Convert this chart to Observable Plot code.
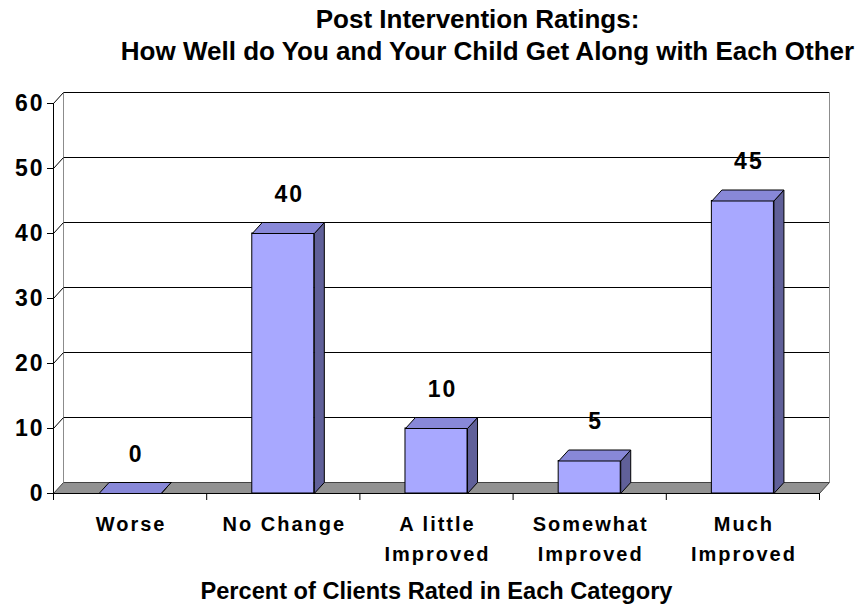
<!DOCTYPE html>
<html><head><meta charset="utf-8">
<script src="https://cdn.jsdelivr.net/npm/d3@7"></script>
<script src="https://cdn.jsdelivr.net/npm/@observablehq/plot@0.6"></script>
<style>
body{margin:0;background:#fff}
g[font-size="20"], g[font-size="20"] text{letter-spacing:2px}
g[font-size="23"], g[font-size="23"] text{letter-spacing:2px}
</style></head><body><div id="chart"></div>
<script>
const categories = ["Worse", "No Change", "A little\nImproved", "Somewhat\nImproved", "Much\nImproved"];
const values = [0, 40, 10, 5, 45];
const yTicks = [0, 10, 20, 30, 40, 50, 60];
const xBounds = [0, 1, 2, 3, 4, 5];
const titleLines = ["Post Intervention Ratings:", "How Well do You and Your Child Get Along with Each Other"];
const xTitle = "Percent of Clients Rated in Each Category";

// depth offsets of the 3D effect, in data units
const DX = 10 / 153.2, DY = 11 / 6.5, HW = 0.2025;
const bars = values.map((v, i) => ({i, v, x1: i + 0.5 - HW, x2: i + 0.5 + HW, label: String(v)}));
const poly = (id, pts) => pts.map(([x, y]) => ({id, x, y}));
const sidePts = bars.flatMap(b => poly(b.i, [[b.x2, 0], [b.x2 + DX, DY], [b.x2 + DX, b.v + DY], [b.x2, b.v], [b.x2, 0]]));
const topPts = bars.flatMap(b => poly(b.i, [[b.x1, b.v], [b.x2, b.v], [b.x2 + DX, b.v + DY], [b.x1 + DX, b.v + DY], [b.x1, b.v]]));
const floorPts = poly(0, [[0, 0], [5, 0], [5 + DX, DY], [DX, DY], [0, 0]]);
const catData = categories.map((c, i) => ({x: i + 0.5, c}));

const chart = Plot.plot({
  width: 863, height: 609,
  marginLeft: 53, marginRight: 44, marginTop: 103, marginBottom: 116,
  style: {fontFamily: "'Liberation Sans', Arial, sans-serif", fontWeight: "bold", background: "#fff", color: "#000"},
  x: {domain: [0, 5]},
  y: {domain: [0, 60]},
  marks: [
    // back wall
    Plot.ruleY(yTicks.slice(1), {x1: 0, x2: 5, dx: 10, dy: -11, stroke: "#000", strokeWidth: 1}),
    Plot.ruleX([0, 5], {y1: 0, y2: 60, dx: 10, dy: -11, stroke: "#8c8c8c", strokeWidth: 1}),
    Plot.link(yTicks.slice(1), {x1: 0, y1: d => d, x2: DX, y2: d => d + DY, stroke: "#000", strokeWidth: 1}),
    // floor
    Plot.line(floorPts, {x: "x", y: "y", z: "id", fill: "#929292", stroke: "#444", strokeWidth: 1}),
    // bars
    Plot.rect(bars, {x1: "x1", x2: "x2", y1: 0, y2: "v", fill: "#a8a8ff", stroke: "#000", strokeWidth: 1}),
    Plot.line(sidePts, {x: "x", y: "y", z: "id", fill: "#606099", stroke: "#000", strokeWidth: 1}),
    Plot.line(topPts, {x: "x", y: "y", z: "id", fill: "#8888d8", stroke: "#000", strokeWidth: 1}),
    // axes
    Plot.ruleX([0], {y1: 0, y2: 60, stroke: "#000"}),
    Plot.ruleY([0], {x1: 0, x2: 5, stroke: "#000"}),
    Plot.axisY({ticks: yTicks, tickSize: 6, tickPadding: 3, fontSize: 23, label: null}),
    Plot.axisX({ticks: xBounds, tickSize: 7, tickFormat: () => "", label: null}),
    Plot.text(catData, {x: "x", y: 0, text: "c", dx: 1, dy: 16, lineAnchor: "top", lineHeight: 1.5, fontSize: 20}),
    Plot.text(bars, {x: d => d.i + 0.5, y: "v", text: "label", dx: 6, dy: -32, lineAnchor: "bottom", fontSize: 23}),
    // titles
    Plot.text([titleLines[0]], {frameAnchor: "top", dx: 41, dy: -76, lineAnchor: "bottom", fontSize: 26}),
    Plot.text([titleLines[1]], {frameAnchor: "top", dx: 51, dy: -44, lineAnchor: "bottom", fontSize: 26}),
    Plot.text([xTitle], {frameAnchor: "bottom", dy: 105, lineAnchor: "bottom", fontSize: 23.6})
  ]
});
document.getElementById("chart").appendChild(chart);
</script></body></html>
